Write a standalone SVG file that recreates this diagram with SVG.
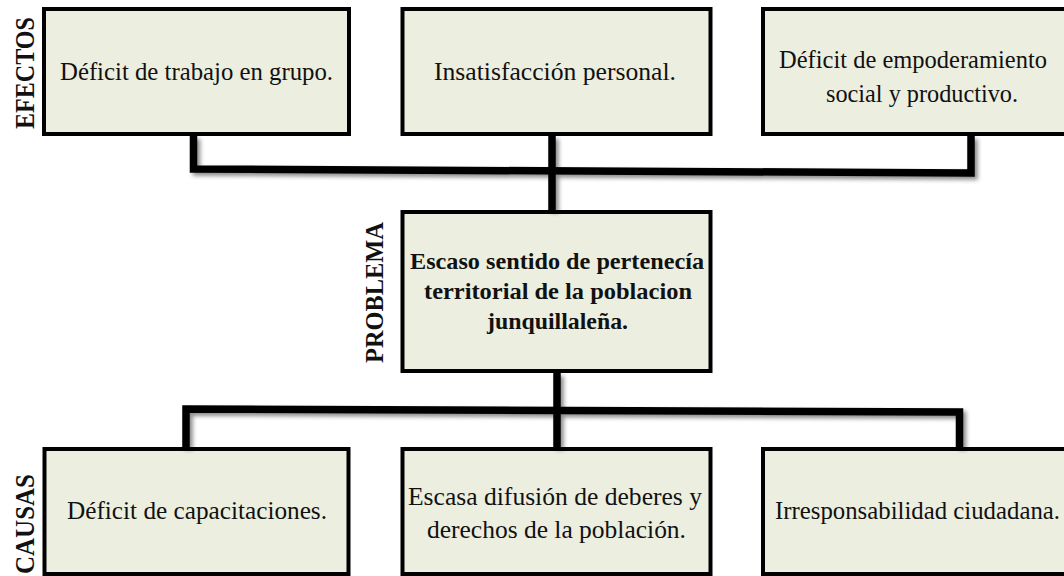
<svg xmlns="http://www.w3.org/2000/svg" width="1064" height="576" viewBox="0 0 1064 576">
  <style>
    .box { fill: #ECEEDF; stroke: #000; stroke-width: 4; }
    .t { font-family: "Liberation Serif", "Times New Roman", serif; font-size: 25px; fill: #111; text-anchor: middle; }
    .b { font-weight: bold; font-size: 24px; }
    .side { font-family: "Liberation Serif", "Times New Roman", serif; font-size: 28px; font-weight: bold; fill: #111; text-anchor: middle; }
    .conn { fill: none; stroke: #000; stroke-width: 7.5; stroke-linejoin: miter; stroke-linecap: butt; }
  </style>
  <defs>
    <filter id="shadow" x="-5%" y="-20%" width="110%" height="140%">
      <feDropShadow dx="3" dy="3" stdDeviation="2" flood-color="#000" flood-opacity="0.45"/>
    </filter>
  </defs>
  <rect width="1064" height="576" fill="#fff"/>

  <g id="label-efectos">
    <text class="side" transform="translate(34,73) rotate(-90) scale(0.86,1)">EFECTOS</text>
  </g>
  <g id="label-problema">
    <text class="side" style="font-size:26px" transform="translate(383,292.5) rotate(-90)" textLength="141" lengthAdjust="spacingAndGlyphs">PROBLEMA</text>
  </g>
  <g id="label-causas">
    <text class="side" transform="translate(34,524) rotate(-90)" textLength="100" lengthAdjust="spacingAndGlyphs">CAUSAS</text>
  </g>

  <g id="efecto-1">
    <rect class="box" x="44" y="9" width="305" height="125"/>
    <text class="t" x="196.5" y="80" textLength="273" lengthAdjust="spacingAndGlyphs">Déficit de trabajo en grupo.</text>
  </g>
  <g id="efecto-2">
    <rect class="box" x="402.5" y="9" width="308" height="125"/>
    <text class="t" x="555" y="80" textLength="242" lengthAdjust="spacingAndGlyphs">Insatisfacción personal.</text>
  </g>
  <g id="efecto-3">
    <rect class="box" x="763" y="9" width="310" height="125"/>
    <text class="t" x="913" y="68" textLength="268" lengthAdjust="spacingAndGlyphs">Déficit de empoderamiento</text>
    <text class="t" x="922" y="102" textLength="192" lengthAdjust="spacingAndGlyphs">social y productivo.</text>
  </g>

  <g id="problema">
    <rect class="box" x="402.5" y="212" width="308" height="159"/>
    <text class="t b" x="557" y="269" textLength="294" lengthAdjust="spacingAndGlyphs">Escaso sentido de pertenecía</text>
    <text class="t b" x="558" y="299" textLength="268" lengthAdjust="spacingAndGlyphs">territorial  de la poblacion</text>
    <text class="t b" x="557.5" y="329" textLength="141" lengthAdjust="spacingAndGlyphs">junquillaleña.</text>
  </g>

  <g id="causa-1">
    <rect class="box" x="44.5" y="449" width="304" height="125"/>
    <text class="t" x="197" y="519" textLength="260" lengthAdjust="spacingAndGlyphs">Déficit de capacitaciones.</text>
  </g>
  <g id="causa-2">
    <rect class="box" x="402.5" y="449" width="308" height="125"/>
    <text class="t" x="555" y="505" textLength="294" lengthAdjust="spacingAndGlyphs">Escasa difusión de deberes y</text>
    <text class="t" x="556.5" y="538" textLength="259" lengthAdjust="spacingAndGlyphs">derechos de la población.</text>
  </g>
  <g id="causa-3">
    <rect class="box" x="763" y="449" width="310" height="125"/>
    <text class="t" x="917.5" y="519" textLength="285" lengthAdjust="spacingAndGlyphs">Irresponsabilidad ciudadana.</text>
  </g>

  <g id="connectors" filter="url(#shadow)">
    <path class="conn" d="M193.5,136 V169 L971,173 V136"/>
    <path class="conn" d="M552,136 V210"/>
    <path class="conn" d="M186,447 V409 L959.5,412 V447"/>
    <path class="conn" d="M557,373 V447"/>
  </g>
</svg>
